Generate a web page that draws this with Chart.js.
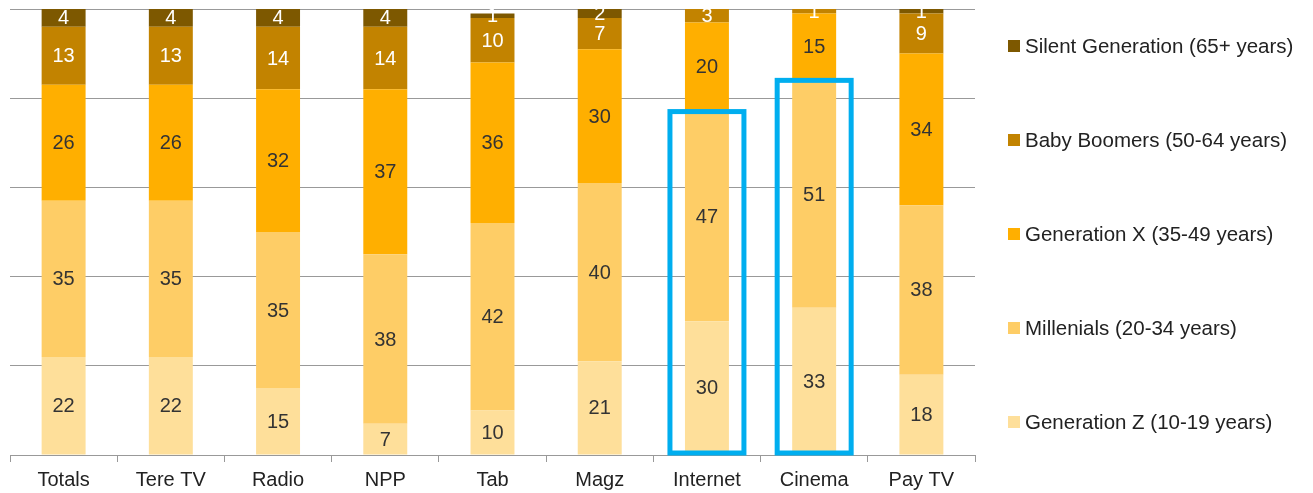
<!DOCTYPE html>
<html>
<head>
<meta charset="utf-8">
<script src="https://cdn.jsdelivr.net/npm/chart.js@4/dist/chart.umd.min.js"></script>
<style>
  body { margin: 0; background: #fff; }
  #wrap { position: relative; width: 1313px; height: 493px; }
  #legend { position: absolute; left: 1008px; top: 0; font: 20.5px "Liberation Sans", Arial, sans-serif; color: #222; }
  #legend div { position: absolute; white-space: nowrap; display: flex; align-items: center; height: 24px; }
  #legend span.box { display: inline-block; width: 12px; height: 12px; margin-right: 5px; }
</style>
</head>
<body>
<div id="wrap">
  <canvas id="chart" width="1313" height="493"></canvas>
  <div id="legend"></div>
</div>
<script>
// Data
const categories = ['Totals', 'Tere TV', 'Radio', 'NPP', 'Tab', 'Magz', 'Internet', 'Cinema', 'Pay TV'];
const genZ = [22, 22, 15, 7, 10, 21, 30, 33, 18];
const millenials = [35, 35, 35, 38, 42, 40, 47, 51, 38];
const genX = [26, 26, 32, 37, 36, 30, 20, 15, 34];
const boomers = [13, 13, 14, 14, 10, 7, 3, 1, 9];
const silent = [4, 4, 4, 4, 1, 2, 0, 0, 1];
const highlighted = ['Internet', 'Cinema'];

const FONT = '"Liberation Sans", Arial, sans-serif';

const datasets = [
  { label: 'Generation Z (10-19 years)', data: genZ, backgroundColor: '#FEDF9A', textColor: '#333' },
  { label: 'Millenials (20-34 years)', data: millenials, backgroundColor: '#FECD66', textColor: '#333' },
  { label: 'Generation X (35-49 years)', data: genX, backgroundColor: '#FFAF00', textColor: '#333' },
  { label: 'Baby Boomers (50-64 years)', data: boomers, backgroundColor: '#C28300', textColor: '#fff' },
  { label: 'Silent Generation (65+ years)', data: silent, backgroundColor: '#7D5800', textColor: '#fff' }
];

// значення всередині сегментів
const valueLabels = {
  id: 'valueLabels',
  afterDatasetsDraw(chart) {
    const { ctx, chartArea } = chart;
    ctx.save();
    ctx.beginPath();
    ctx.rect(chartArea.left, chartArea.top, chartArea.right - chartArea.left, chartArea.bottom - chartArea.top);
    ctx.clip();
    ctx.font = '20px ' + FONT;
    ctx.textAlign = 'center';
    ctx.textBaseline = 'middle';
    chart.data.datasets.forEach((ds, di) => {
      const meta = chart.getDatasetMeta(di);
      meta.data.forEach((bar, i) => {
        const v = ds.data[i];
        if (!v) return;
        const p = bar.getCenterPoint();
        ctx.fillStyle = ds.textColor;
        ctx.fillText(String(v), p.x, p.y + 1);
      });
    });
    ctx.restore();
  }
};

// сині рамки навколо Internet і Cinema
const highlightBoxes = {
  id: 'highlightBoxes',
  afterDatasetsDraw(chart) {
    const { ctx, scales } = chart;
    const x = scales.x, y = scales.y;
    const catW = x.width / categories.length;
    ctx.save();
    ctx.strokeStyle = '#00AEEF';
    ctx.lineWidth = 5;
    highlighted.forEach(name => {
      const i = categories.indexOf(name);
      const cx = x.getPixelForValue(i);
      const half = catW * 0.345;
      const top = y.getPixelForValue(genZ[i] + millenials[i]);
      const bottom = y.getPixelForValue(0) - 2;
      ctx.strokeRect(cx - half, top, half * 2, bottom - top);
    });
    ctx.restore();
  }
};

const config = {
  type: 'bar',
  data: { labels: categories, datasets: datasets },
  options: {
    responsive: false,
    animation: false,
    layout: { padding: { left: 10, right: 338, top: 9, bottom: -5 } },
    datasets: { bar: { categoryPercentage: 1, barPercentage: 0.41, borderWidth: 0 } },
    plugins: { legend: { display: false }, tooltip: { enabled: false } },
    scales: {
      x: {
        stacked: true,
        grid: { offset: true, drawOnChartArea: false, tickLength: 7, color: '#999' },
        border: { color: '#999' },
        ticks: { color: '#222', padding: 6, font: { family: FONT, size: 20 } }
      },
      y: {
        stacked: true,
        min: 0,
        max: 100,
        ticks: { stepSize: 20, display: false },
        grid: { color: '#999', drawTicks: false },
        border: { display: false }
      }
    }
  },
  plugins: [valueLabels, highlightBoxes]
};

const chart = new Chart(document.getElementById('chart').getContext('2d'), config);

// легенда справа
const legendEl = document.getElementById('legend');
const legendY = [46, 140, 234, 328, 422];
datasets.slice().reverse().forEach((ds, k) => {
  const item = document.createElement('div');
  item.style.top = (legendY[k] - 12) + 'px';
  item.innerHTML = '<span class="box" style="background:' + ds.backgroundColor + '"></span>' + ds.label;
  legendEl.appendChild(item);
});
</script>
</body>
</html>
